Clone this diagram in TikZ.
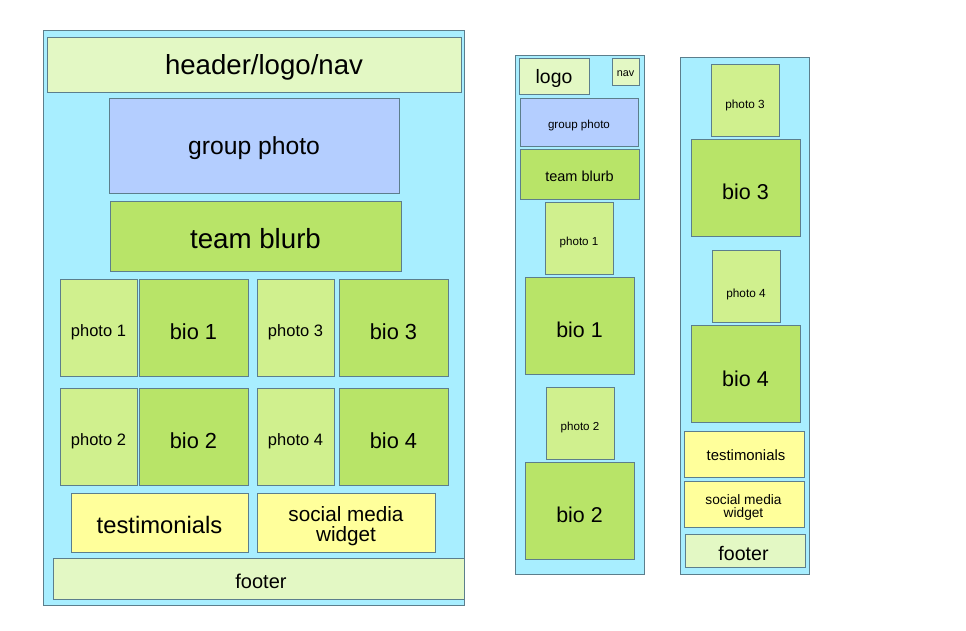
\documentclass[tikz,border=0pt]{standalone}
\usepackage{fontspec}
\setmainfont{Liberation Sans}
\usepackage{tikz}
\usetikzlibrary{positioning}

\definecolor{pagebg}{RGB}{168,238,255}
\definecolor{edge}{RGB}{92,126,140}
\definecolor{palegreen}{RGB}{227,248,196}
\definecolor{photogreen}{RGB}{208,240,142}
\definecolor{biogreen}{RGB}{184,228,104}
\definecolor{photoblue}{RGB}{180,206,255}
\definecolor{paleyellow}{RGB}{255,255,155}

\begin{document}
\begin{tikzpicture}[x=1pt,y=-1pt,
  box/.style={draw=edge,line width=0.8pt},
  txt/.style={inner sep=0pt,align=center,yshift=-2.5pt},
  fnt/.style={font=\fontsize{#1}{#1}\selectfont}]
\useasboundingbox (0,0) rectangle (966,630);

\draw[box, fill=pagebg] (43,30) rectangle (464,605);
\draw[box, fill=palegreen] (47,37) rectangle (461,92);
\draw[box, fill=photoblue] (109,98) rectangle (399,193);
\draw[box, fill=biogreen] (110,201) rectangle (401,271);
\draw[box, fill=photogreen] (60,279) rectangle (137,376);
\draw[box, fill=biogreen] (139,279) rectangle (248,376);
\draw[box, fill=photogreen] (257,279) rectangle (334,376);
\draw[box, fill=biogreen] (339,279) rectangle (448,376);
\draw[box, fill=photogreen] (60,388) rectangle (137,485);
\draw[box, fill=biogreen] (139,388) rectangle (248,485);
\draw[box, fill=photogreen] (257,388) rectangle (334,485);
\draw[box, fill=biogreen] (339,388) rectangle (448,485);
\draw[box, fill=paleyellow] (71,493) rectangle (248,552);
\draw[box, fill=paleyellow] (257,493) rectangle (435,552);
\draw[box, fill=palegreen] (53,558) rectangle (464,599);

\node[txt, fnt=27.6] (hdrL) at (264,65) {header/logo/nav};
\node[txt, fnt=24.7] (grpL) at (254,145.5) {group photo};
\node[txt, fnt=27.7] (blurbL) at (255.5,236) {team blurb};
\node[txt, fnt=16.5] (phoL1) at (98.5,329.5) {photo 1};
\node[txt, fnt=21.8] (bioL1) at (193.5,329) {bio 1};
\node[txt, fnt=16.5] (phoL3) at (295.5,329.5) {photo 3};
\node[txt, fnt=21.8] (bioL3) at (393.5,329) {bio 3};
\node[txt, fnt=16.5] (phoL2) at (98.5,438.5) {photo 2};
\node[txt, fnt=21.8] (bioL2) at (193.5,438) {bio 2};
\node[txt, fnt=16.5] (phoL4) at (295.5,438.5) {photo 4};
\node[txt, fnt=21.8] (bioL4) at (393.5,438) {bio 4};
\node[txt, fnt=23.8] (testL) at (159.5,522.5) {testimonials};
\node[txt, fnt=20.7] (socL) at (346,523.5) {social media\\widget};
\node[txt, fnt=20] (footL) at (261,579) {footer};

\draw[box, fill=pagebg] (515,55) rectangle (644,574);
\draw[box, fill=palegreen] (519,58) rectangle (589,94);
\draw[box, fill=palegreen] (612,58) rectangle (639,85);
\draw[box, fill=photoblue] (520,98) rectangle (638,146);
\draw[box, fill=biogreen] (520,149) rectangle (639,199);
\draw[box, fill=photogreen] (545,202) rectangle (613,274);
\draw[box, fill=biogreen] (525,277) rectangle (634,374);
\draw[box, fill=photogreen] (546,387) rectangle (614,459);
\draw[box, fill=biogreen] (525,462) rectangle (634,559);

\node[txt, fnt=19.4] (logoM) at (554,76) {logo};
\node[txt, fnt=10.8] (navM) at (625.5,71) {nav};
\node[txt, fnt=11.6] (grpM) at (579,122.5) {group photo};
\node[txt, fnt=14.5] (blurbM) at (579.5,174) {team blurb};
\node[txt, fnt=11.6] (phoM1) at (579,240) {photo 1};
\node[txt, fnt=21.4] (bioM1) at (579.5,327) {bio 1};
\node[txt, fnt=11.6] (phoM2) at (580,425) {photo 2};
\node[txt, fnt=21.4] (bioM2) at (579.5,512) {bio 2};

\draw[box, fill=pagebg] (680,57) rectangle (809,574);
\draw[box, fill=photogreen] (711,64) rectangle (779,136);
\draw[box, fill=biogreen] (691,139) rectangle (800,236);
\draw[box, fill=photogreen] (712,250) rectangle (780,322);
\draw[box, fill=biogreen] (691,325) rectangle (800,422);
\draw[box, fill=paleyellow] (684,431) rectangle (804,477);
\draw[box, fill=paleyellow] (684,481) rectangle (804,527);
\draw[box, fill=palegreen] (685,534) rectangle (805,567);

\node[txt, fnt=11.8] (phoR3) at (745,102.5) {photo 3};
\node[txt, fnt=21.5] (bioR3) at (745.5,189) {bio 3};
\node[txt, fnt=11.8] (phoR4) at (746,292) {photo 4};
\node[txt, fnt=21.5] (bioR4) at (745.5,376) {bio 4};
\node[txt, fnt=14.9] (testR) at (746,452.5) {testimonials};
\node[txt, fnt=13.7] (socR) at (743.5,505) {social media\\widget};
\node[txt, fnt=19.6] (footR) at (743.5,550.5) {footer};
\end{tikzpicture}
\end{document}
